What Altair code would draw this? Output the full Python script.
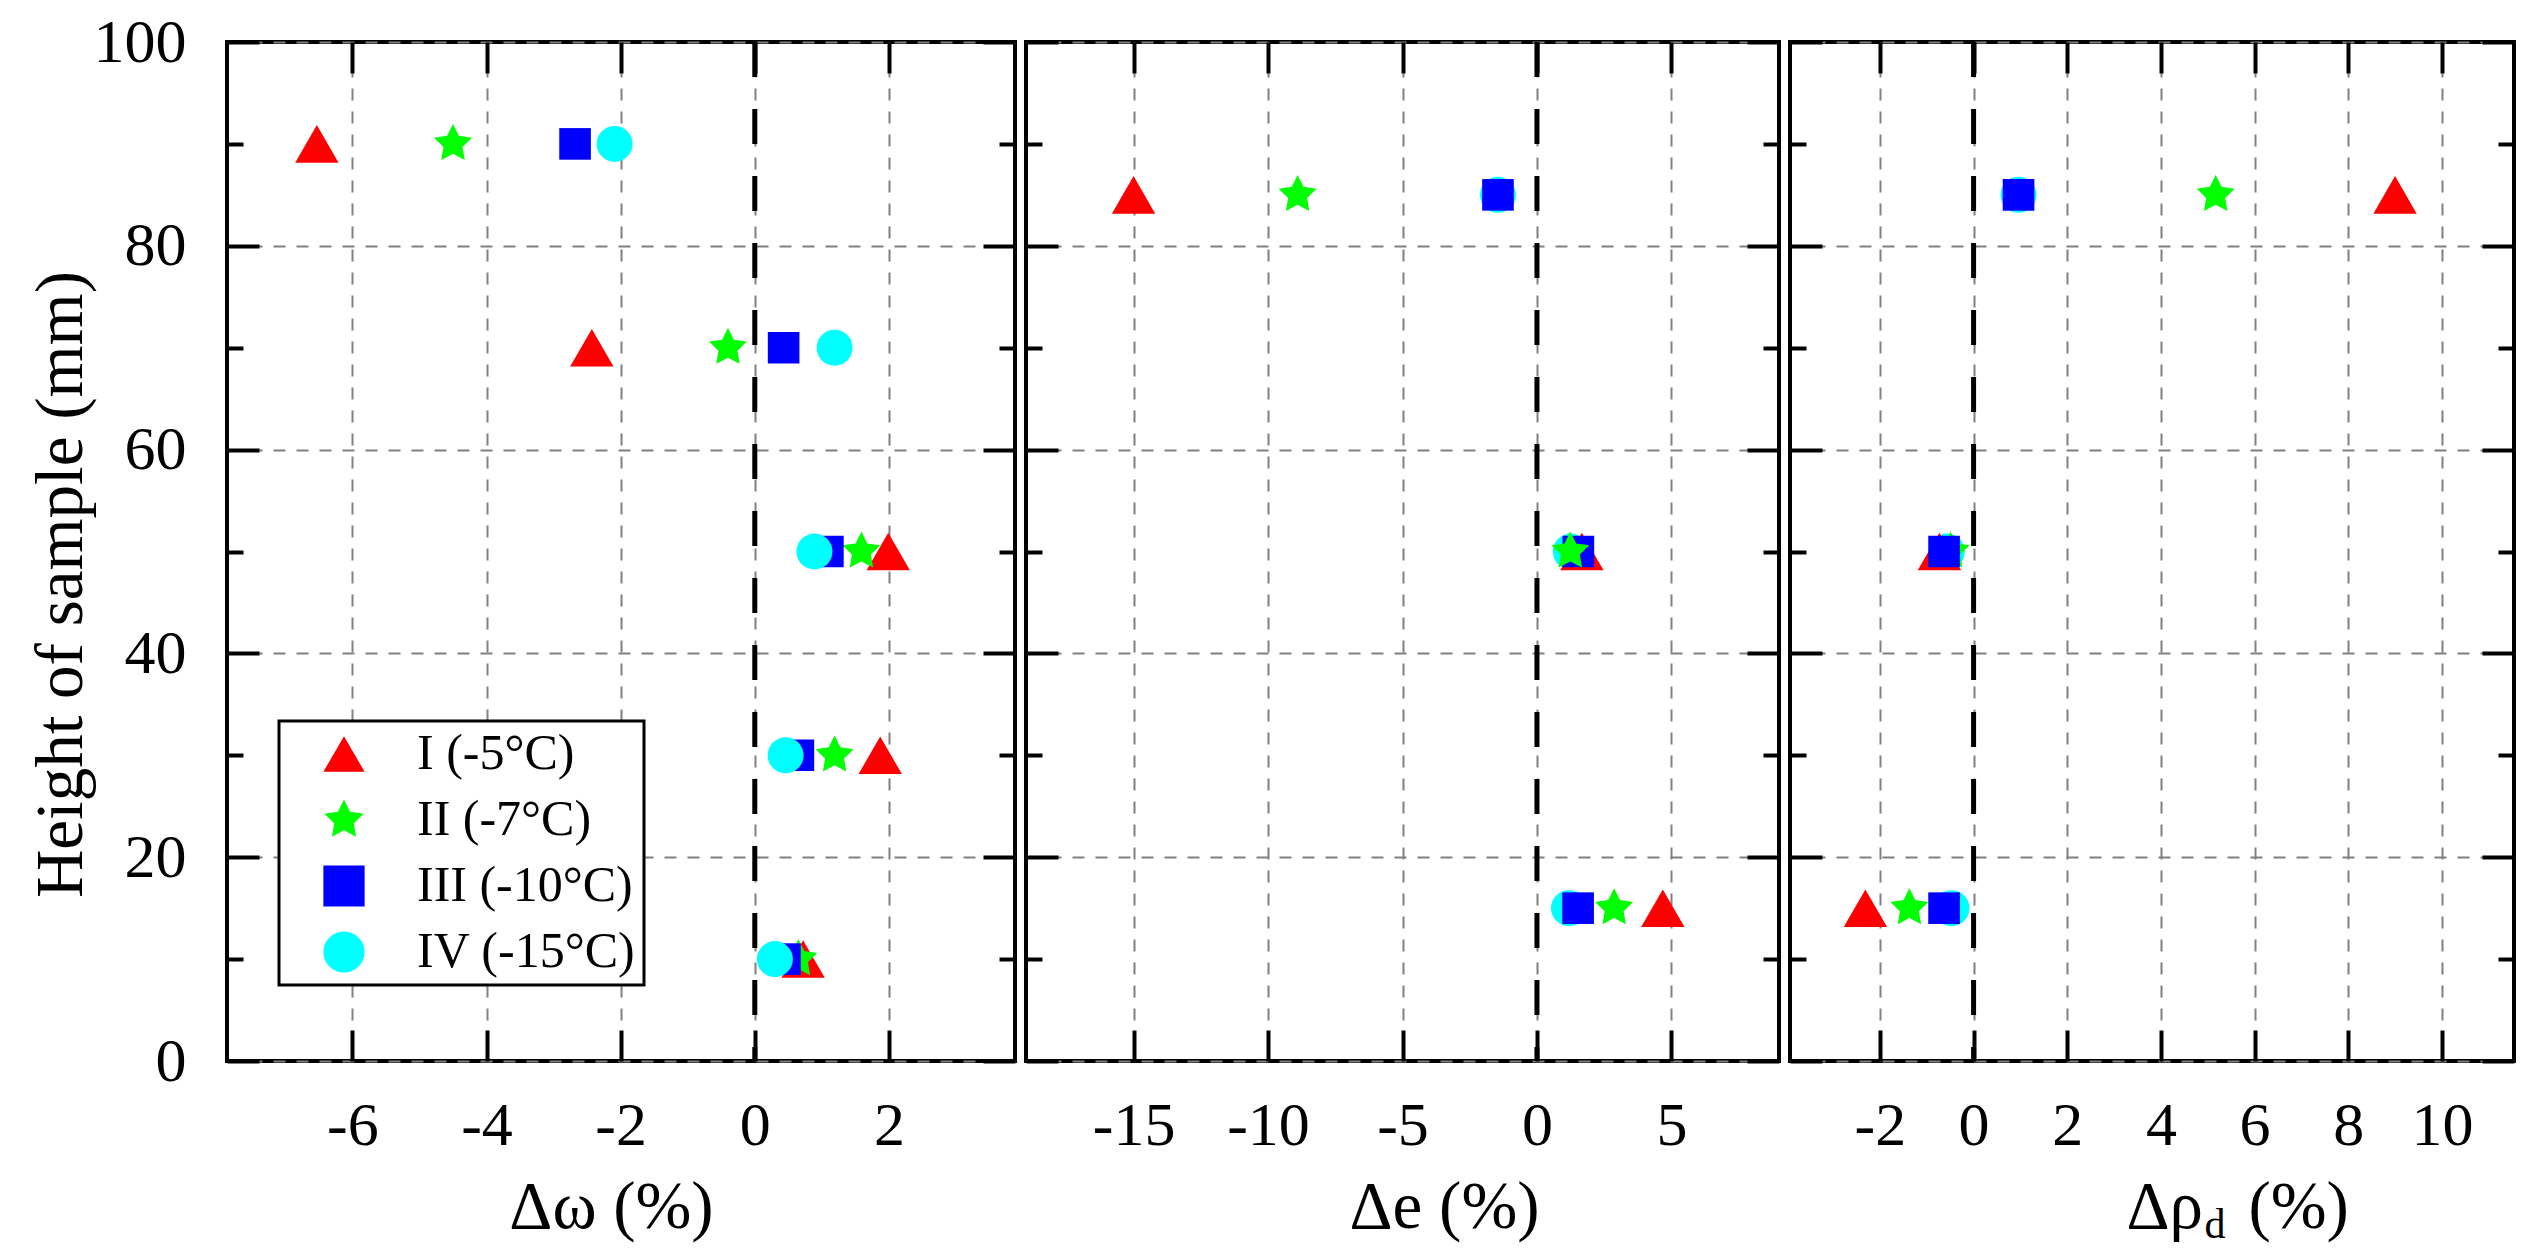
import altair as alt
import pandas as pd

FONT = "Liberation Serif"

# ---------------- data ----------------
series = ["I (-5°C)", "II (-7°C)", "III (-10°C)", "IV (-15°C)"]
colors = ["#FF0000", "#00FF00", "#0000FF", "#00FFFF"]

heights_w = [90, 70, 50, 30, 10]
dw_I = [-6.53, -2.43, 1.99, 1.87, 0.72]
dw_II = [-4.50, -0.40, 1.59, 1.19, 0.65]
dw_III = [-2.68, 0.43, 1.09, 0.65, 0.45]
dw_IV = [-2.09, 1.19, 0.89, 0.46, 0.30]

heights_e = [85, 50, 15]
de_I = [-15.0, 1.67, 4.68]
de_II = [-8.9, 1.24, 2.87]
de_III = [-1.45, 1.54, 1.53]
de_IV = [-1.45, 1.26, 1.19]

heights_rho = [85, 50, 15]
drho_I = [9.0, -0.73, -2.31]
drho_II = [5.17, -0.49, -1.37]
drho_III = [0.96, -0.63, -0.63]
drho_IV = [0.96, -0.57, -0.47]

ticks_w = [-6, -4, -2, 0, 2]
ticks_e = [-15, -10, -5, 0, 5]
ticks_rho = [-2, 0, 2, 4, 6, 8, 10]
y_major = [0, 20, 40, 60, 80, 100]
y_minor = [10, 30, 50, 70, 90]

dom_w = [-7.87, 3.88]
dom_e = [-19.0, 9.0]
dom_rho = [-3.92, 11.54]

zero_line = [0.0]

# ---------------- styling ----------------
STAR = ("M0,-1L0.2939,-0.4045L0.9511,-0.309L0.4755,0.1545L0.5878,0.809L0,0.5"
        "L-0.5878,0.809L-0.4755,0.1545L-0.9511,-0.309L-0.2939,-0.4045Z")
shapes = ["triangle-up", STAR, "square", "circle"]
# marker area grows square -> circle -> star -> triangle (point scale, evenly spaced)
size_order = [series[2], series[3], series[1], series[0]]
size_range = [1000, 1880]
H = 1019
GRID = dict(grid=True, gridColor="#808080", gridWidth=2, gridDash=[12, 11])


def long_df(heights, vals, order):
    rows = []
    for s, v in zip(series, vals):
        for h, x in zip(heights, v):
            rows.append({"series": s, "height": h, "value": x, "z": order.index(s)})
    return pd.DataFrame(rows)


def tick_axis(orient, offset, values, size):
    return alt.Axis(orient=orient, offset=offset, values=values, labels=False,
                    ticks=True, tickSize=size, tickWidth=4, tickColor="black",
                    domain=False, grid=False, title=None, minExtent=0)


def title_axis(text, size, tx, ty):
    return alt.Axis(orient="bottom", labels=False, ticks=False, domain=False,
                    grid=False, title=text, titleFontSize=size,
                    titleFontWeight="normal", titleX=tx, titleY=ty,
                    titleBaseline="middle", titleAlign="left")


def panel(df, xdom, xticks, W, xtitle, title_x, title_align, first, extra=None):
    xs = alt.Scale(domain=xdom, nice=False, zero=False)
    ys = alt.Scale(domain=[0, 100], nice=False, zero=False)
    if first:
        leg = alt.Legend(orient="none", legendX=52, legendY=679, title=None,
                         fillColor="white", strokeColor="black", padding=8,
                         rowPadding=16, symbolOffset=32, labelOffset=48,
                         labelFontSize=50, labelFont=FONT, labelColor="black",
                         labelLimit=600, symbolStrokeWidth=0, symbolSize=1700)
    else:
        leg = None
    x_main = alt.Axis(orient="bottom", values=xticks, labelExpr="'' + datum.value",
                      labelFlush=False, labelOverlap=False, labelFontSize=62,
                      labelPadding=34, labelColor="black", ticks=False, domain=False,
                      title=xtitle, titleFontSize=67, titleFontWeight="normal",
                      titleX=title_x, titleY=146, titleBaseline="middle",
                      titleAlign=title_align, **GRID)
    if first:
        y_main = alt.Axis(orient="left", values=y_major, labelExpr="'' + datum.value",
                          labelFlush=False, labelOverlap=False, labelFontSize=62,
                          labelPadding=41, labelColor="black", ticks=False,
                          domain=False, title="Height of sample (mm)",
                          titleFontSize=67, titleFontWeight="normal",
                          titleX=-166, titleY=542, titleBaseline="middle",
                          titleAlign="center", minExtent=0, **GRID)
    else:
        y_main = alt.Axis(orient="left", values=y_major, labels=False, ticks=False,
                          domain=False, title=None, minExtent=0, **GRID)

    pts = alt.Chart(df).mark_point(filled=True, opacity=1, strokeWidth=0).encode(
        x=alt.X("value:Q", scale=xs, axis=x_main),
        y=alt.Y("height:Q", scale=ys, axis=y_main),
        color=alt.Color("series:N", scale=alt.Scale(domain=series, range=colors), legend=leg),
        shape=alt.Shape("series:N", scale=alt.Scale(domain=series, range=shapes), legend=leg),
        size=alt.Size("series:N", scale=alt.Scale(domain=size_order, range=size_range), legend=None),
        order=alt.Order("z:Q"),
    )
    zero = alt.Chart(pd.DataFrame({"zero": zero_line, "height": [50.0]})).mark_rule(
        color="black", strokeWidth=5, strokeDash=[35, 32]
    ).encode(x=alt.X("zero:Q", scale=xs, axis=tick_axis("top", -H, xticks, 31)))

    ax4 = ax5 = None
    if extra is not None:
        ax4 = title_axis(*extra[0])
        ax5 = title_axis(*extra[1])

    inv = alt.Chart(df).mark_point(opacity=0)
    l3 = inv.encode(
        x=alt.X("value:Q", scale=xs, axis=tick_axis("bottom", -H, xticks, 31)),
        y=alt.Y("height:Q", scale=ys, axis=tick_axis("right", -W, y_major, 32)),
    )
    l4 = inv.encode(
        x=alt.X("value:Q", scale=xs, axis=ax4),
        y=alt.Y("height:Q", scale=ys, axis=tick_axis("left", -W, y_major, 32)),
    )
    l5 = inv.encode(
        x=alt.X("value:Q", scale=xs, axis=ax5),
        y=alt.Y("height:Q", scale=ys, axis=tick_axis("right", -W, y_minor, 16)),
    )
    l6 = inv.encode(
        x=alt.X("value:Q", scale=xs, axis=None),
        y=alt.Y("height:Q", scale=ys, axis=tick_axis("left", -W, y_minor, 16)),
    )

    return alt.layer(zero, pts, l3, l4, l5, l6).resolve_axis(
        x="independent", y="independent"
    ).properties(width=W, height=H)


df_w = long_df(heights_w, [dw_I, dw_II, dw_III, dw_IV], [series[0], series[1], series[2], series[3]])
df_e = long_df(heights_e, [de_I, de_II, de_III, de_IV], [series[3], series[0], series[2], series[1]])
df_r = long_df(heights_rho, [drho_I, drho_II, drho_III, drho_IV], [series[3], series[0], series[1], series[2]])

p1 = panel(df_w, dom_w, ticks_w, 788, "Δω (%)", 384, "center", True)
p2 = panel(df_e, dom_e, ticks_e, 753, "Δe (%)", 418, "center", False)
p3 = panel(df_r, dom_rho, ticks_rho, 724, "Δρ", 336, "left", False,
           extra=[("d", 42, 414, 163), ("(%)", 67, 458, 146)])

chart = alt.hconcat(p1, p2, p3, spacing=3).resolve_scale(
    color="independent", shape="independent", size="independent"
).properties(
    padding={"left": 16, "top": 1, "right": 0, "bottom": 0},
    background="white",
).configure_view(
    stroke="black", strokeWidth=4, fill="white"
).configure_axis(
    labelFont=FONT, titleFont=FONT, titleColor="black", labelColor="black"
).configure_legend(
    strokeWidth=3
)

chart.save("out.html", embed_options={"renderer": "svg", "actions": False})
